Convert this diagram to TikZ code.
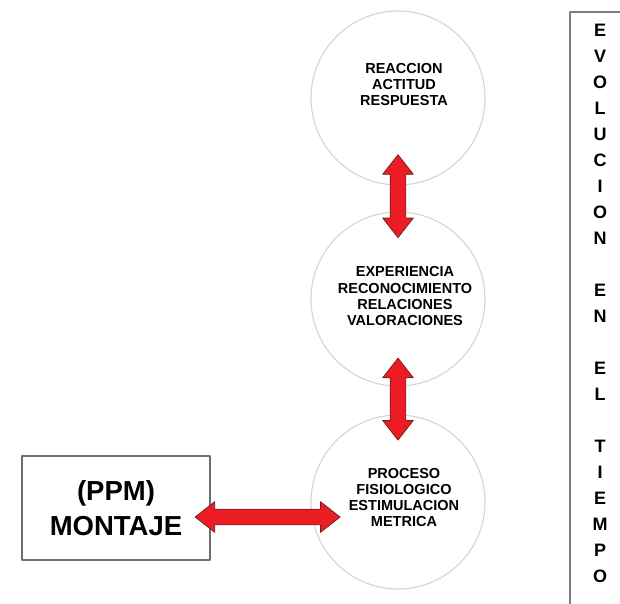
\documentclass[tikz,border=0pt]{standalone}
\usepackage{fontspec}
\setmainfont{Liberation Sans}
\usetikzlibrary{shapes.arrows}
\definecolor{arrowred}{RGB}{236,28,36}
\definecolor{arrowedge}{RGB}{110,30,30}
\definecolor{ringgray}{RGB}{212,212,212}
\definecolor{boxgray}{RGB}{110,110,110}
\begin{document}
\begin{tikzpicture}[line cap=round,line join=round,x=1pt,y=-1pt,
  ring/.style={circle,draw=ringgray,line width=1.1pt,minimum size=174pt,inner sep=0pt},
  ringtext/.style={align=center,font=\fontsize{14.5}{16}\selectfont\bfseries},
  fatarrow/.style={double arrow,sloped,fill=arrowred,draw=arrowedge,line width=0.7pt,
    inner xsep=0pt,inner ysep=7.5pt,double arrow head extend=7.5pt,double arrow tip angle=76},
  ppmbox/.style={draw=boxgray,line width=1.5pt,minimum width=188pt,minimum height=104pt,
    align=center,font=\fontsize{27.5}{35}\selectfont\bfseries},
  timetext/.style={align=center,font=\fontsize{18}{26}\selectfont\bfseries}]
\useasboundingbox (0,0) rectangle (620,603);
\clip (0,0) rectangle (620,603);
% circulos
\node[ring] (c1) at (398,98) {};
\node[ring] (c2) at (398,299) {};
\node[ring] (c3) at (398,502) {};
\node[ringtext] (t1) at (404,85) {REACCION\\ACTITUD\\RESPUESTA};
\node[ringtext] (t2) at (405,296) {EXPERIENCIA\\RECONOCIMIENTO\\RELACIONES\\VALORACIONES};
\node[ringtext] (t3) at (404,497) {PROCESO\\FISIOLOGICO\\ESTIMULACION\\METRICA};
% montaje
\node[ppmbox] (ppm) at (116,508) {(PPM)\\MONTAJE};
% evolucion
\draw[draw=boxgray!90,line width=1.2pt] (570,640) -- (570,12) -- (660,12);
\node[timetext] (evo) at (600,303) {E\\V\\O\\L\\U\\C\\I\\O\\N\\[26pt]E\\N\\[26pt]E\\L\\[26pt]T\\I\\E\\M\\P\\O};
% flechas
\path (c1.south) -- node[fatarrow,pos=0.41,minimum height=83pt] (a12) {} (c2.north);
\path (c2.south) -- node[fatarrow,pos=0.45,minimum height=82pt] (a23) {} (c3.north);
\path ([yshift=-9pt]ppm.east) -- node[fatarrow,pos=0.57,minimum height=145pt] (a3) {} ([yshift=-9pt]ppm.east -| c3.west);
\end{tikzpicture}
\end{document}
